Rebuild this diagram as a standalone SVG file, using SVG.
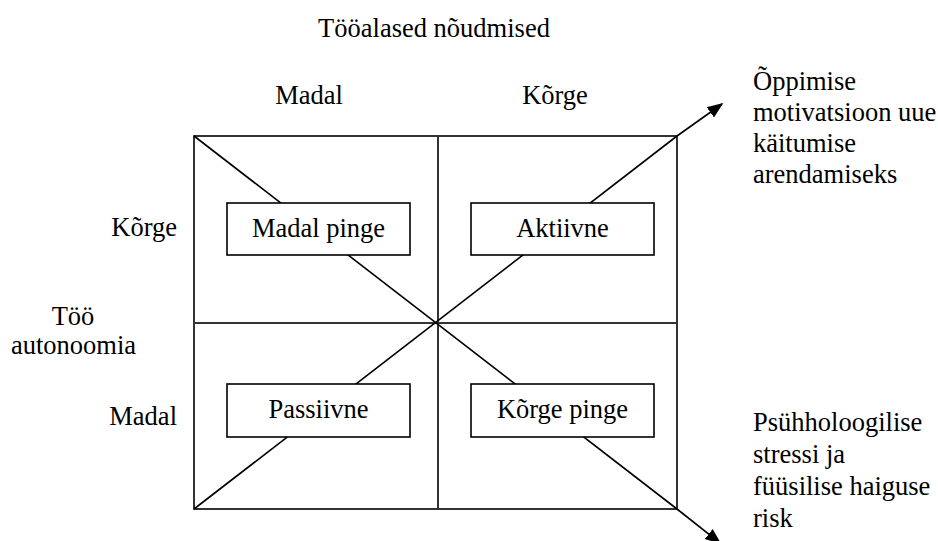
<svg xmlns="http://www.w3.org/2000/svg" width="938" height="541" viewBox="0 0 938 541">
<style>
text{font-family:"Liberation Serif","Times New Roman",serif;font-size:26.5px;fill:#000}
.c{text-anchor:middle}
.r{text-anchor:end}
.ln{stroke:#000;stroke-width:1.6;fill:none}
.mid{stroke:#333;stroke-width:2;fill:none}
.box{fill:#fff;stroke:#000;stroke-width:1.6}
</style>
<defs>
<marker id="ah2" viewBox="0 0 10 10" refX="9" refY="5" markerWidth="16" markerHeight="16" markerUnits="userSpaceOnUse" orient="auto">
<path d="M0,1 L10,5 L0,9 z" fill="#000"/>
</marker>
</defs>
<g id="labels">
<text class="c" x="434" y="37">Tööalased nõudmised</text>
<text class="c" x="309" y="104">Madal</text>
<text class="c" x="555" y="104">Kõrge</text>
<text class="r" x="177" y="236">Kõrge</text>
<text class="c" x="73" y="325">Töö</text>
<text class="c" x="73.5" y="354">autonoomia</text>
<text class="r" x="177" y="425">Madal</text>
<text x="753" y="90">Õppimise</text>
<text x="753" y="121">motivatsioon uue</text>
<text x="753" y="152">käitumise</text>
<text x="753" y="183">arendamiseks</text>
<text x="753" y="431">Psühholoogilise</text>
<text x="753" y="463">stressi ja</text>
<text x="753" y="495">füüsilise haiguse</text>
<text x="753" y="527">risk</text>
</g>
<g id="frame">
<rect class="ln" x="194" y="136" width="483" height="373"/>
<line class="mid" x1="438" y1="136" x2="438" y2="509"/>
<line class="mid" x1="194" y1="323" x2="677" y2="323"/>
</g>
<g id="connectors">
<line class="ln" x1="194" y1="136" x2="677" y2="509"/>
<line class="ln" x1="194" y1="509" x2="677" y2="136"/>
<line class="ln" x1="677" y1="136" x2="722" y2="104" marker-end="url(#ah2)"/>
<line class="ln" x1="677" y1="509" x2="720" y2="543" marker-end="url(#ah2)"/>
</g>
<g id="madal-pinge">
<rect class="box" x="227" y="203" width="183" height="52"/>
<text class="c" x="318.5" y="237">Madal pinge</text>
</g>
<g id="aktiivne">
<rect class="box" x="471" y="203" width="183" height="52"/>
<text class="c" x="562.5" y="237">Aktiivne</text>
</g>
<g id="passiivne">
<rect class="box" x="227" y="384" width="183" height="53"/>
<text class="c" x="318.5" y="418">Passiivne</text>
</g>
<g id="korge-pinge">
<rect class="box" x="471" y="384" width="183" height="53"/>
<text class="c" x="562.5" y="418">Kõrge pinge</text>
</g>
</svg>
